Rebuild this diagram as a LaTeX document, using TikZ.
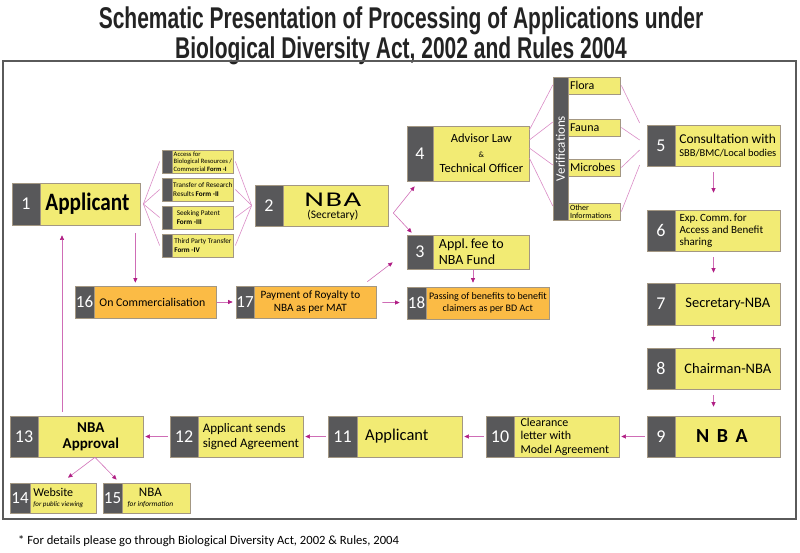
\documentclass[tikz,border=0pt]{standalone}
\usepackage{fontspec}
\setmainfont{Carlito}
\newfontfamily\titlefont{Liberation Sans}[FakeStretch=0.7]
\usepackage{graphicx}
\usepackage{tikz}
\usetikzlibrary{arrows.meta,positioning,calc}

\definecolor{boxyellow}{HTML}{F2EB74}
\definecolor{boxorange}{HTML}{FBBB45}
\definecolor{numgray}{HTML}{58585A}
\definecolor{boxedge}{HTML}{A39783}
\definecolor{fanpink}{HTML}{DA8CC6}
\definecolor{flowpink}{HTML}{CF6DB6}
\definecolor{flowtip}{HTML}{B01E84}
\definecolor{framegray}{HTML}{5A5A5A}
\definecolor{titlegray}{HTML}{232323}

\tikzset{
  stage/.style={draw=boxedge, line width=0.7pt, inner sep=0pt},
  numtag/.style={draw=boxedge, line width=0.7pt, fill=numgray, inner sep=0pt, text=white, font=\fontsize{18}{18}\selectfont},
  formtext/.style={align=left, inner sep=0pt},
  verif/.style={stage, fill=boxyellow, minimum width=52, minimum height=17, text width=48, align=left, inner xsep=2pt, font=\fontsize{12}{12}\selectfont},
  fan/.style={draw=fanpink, line width=0.6pt},
  flow/.style={draw=flowpink, line width=0.6pt, -{Triangle[length=4.5pt,width=4pt,color=flowtip]}},
}

% name, centre, width, height, tag width, number, fill, label options, label
\newcommand{\stagebox}[9]{%
  \node[stage, fill=#7, minimum width=#3, minimum height=#4] (#1) at (#2) {};
  \node[numtag, minimum width=#5, minimum height=#4, anchor=west] (#1-n) at (#1.west) {#6};
  \node[#8] (#1-t) at ($(#1-n.east)!0.5!(#1.east)$) {#9};
}

\begin{document}
\begin{tikzpicture}[x=1pt,y=-1pt]
\useasboundingbox (0,0) rectangle (800,552);

% title and frame
\node[anchor=base, font=\titlefont\bfseries\fontsize{30}{30}\selectfont, text=titlegray] (title-a) at (401,28) {Schematic Presentation of Processing of Applications under};
\node[anchor=base, font=\titlefont\bfseries\fontsize{30}{30}\selectfont, text=titlegray] (title-b) at (401,58) {Biological Diversity Act, 2002 and Rules 2004};
\draw[framegray, line width=1.6pt] (3,61) rectangle (796,519);

% applicant and forms
\stagebox{b1}{76,204}{128}{42}{28}{1}{boxyellow}{xshift=-3pt, font=\bfseries\fontsize{25}{25}\selectfont}{\scalebox{0.85}[1]{Applicant}}
\stagebox{f1}{197.5,161.5}{71}{23}{10}{}{boxyellow}{formtext, font=\fontsize{6.6}{7.6}\selectfont}{Access for\\Biological Resources /\\Commercial \textbf{Form -I}}
\stagebox{f2}{197.5,189.5}{71}{23}{10}{}{boxyellow}{formtext, font=\fontsize{7.2}{8.5}\selectfont}{Transfer of Research\\Results \textbf{Form -II}}
\stagebox{f3}{197.5,217.5}{71}{23}{10}{}{boxyellow}{formtext, xshift=-4.5pt, font=\fontsize{7.2}{8.5}\selectfont}{Seeking Patent\\\textbf{Form -III}}
\stagebox{f4}{197.5,245.5}{71}{23}{10}{}{boxyellow}{formtext, font=\fontsize{7.2}{8.5}\selectfont}{Third Party Transfer\\\textbf{Form -IV}}
\stagebox{b2}{321.5,205.5}{133}{41}{28}{2}{boxyellow}{align=center, xshift=-3pt, yshift=-1pt, font=\fontsize{11.5}{12.5}\selectfont}{{\fontsize{21}{21}\selectfont\scalebox{1.45}[1]{N\kern1pt B\kern1pt A}}\\(Secretary)}

\coordinate (b1-fan) at ([xshift=3pt]b1.east);
\coordinate (b2-fan) at ([xshift=-3pt]b2.west);
\foreach \f in {f1,f2,f3,f4} {
  \draw[fan] (b1-fan) -- ([xshift=-2pt]\f.west);
  \draw[fan] ([xshift=2pt]\f.east) -- (b2-fan);
}

% scrutiny
\stagebox{b4}{468,153.5}{122}{55}{26}{4}{boxyellow}{align=center, font=\fontsize{12.5}{15}\selectfont}{Advisor Law\\{\fontsize{8}{8}\selectfont\&}\\Technical Officer}
\stagebox{b3}{468,252}{122}{34}{26}{3}{boxyellow}{align=left, xshift=-10pt, font=\fontsize{14}{16}\selectfont}{Appl.\,fee to\\NBA Fund}
\coordinate (b2-fork) at ([shift={(5pt,-7.5pt)}]b2.east);
\draw[flow] (b2-fork) -- ([shift={(8pt,-5pt)}]b4.south west);
\draw[flow] (b2-fork) -- ([shift={(5pt,2pt)}]b3.north west);

\node[fill=numgray, draw=boxedge, minimum width=15, minimum height=143, inner sep=0pt] (vbar) at (560.5,148.5) {};
\node[rotate=90, text=white, font=\fontsize{13}{13}\selectfont] (vbar-t) at (vbar) {Verifications};
\node[verif] (v1) at (594,85.5) {Flora};
\node[verif] (v2) at (594,127.5) {Fauna};
\node[verif] (v3) at (594,167.5) {Microbes};
\node[verif, font=\fontsize{8}{8.5}\selectfont] (v4) at (594,211.5) {Other\\Informations};
\foreach \s/\e in {23.5/63.5, 13.5/26.5, 5.5/-16.5, -4.5/-57.5}
  \draw[fan] ([yshift=\s pt]b4.east) -- ([yshift=\e pt]vbar.west);

% right column
\stagebox{b5}{713.5,145.5}{133}{41}{28}{5}{boxyellow}{align=left, font=\fontsize{10.5}{13}\selectfont}{{\fontsize{13.5}{13}\selectfont Consultation with}\\SBB/BMC/Local bodies}
\foreach \v/\e in {v1/22.5, v2/5.5, v3/-4.5, v4/-19.5}
  \draw[fan] ([xshift=1pt]\v.east) -- ([shift={(-7pt,\e pt)}]b5.west);
\stagebox{b6}{713.5,230.5}{133}{41}{28}{6}{boxyellow}{align=left, xshift=-6.5pt, font=\fontsize{11}{12}\selectfont}{Exp.\,Comm.\,for\\Access and Benefit\\sharing}
\stagebox{b7}{713.5,304}{133}{42}{28}{7}{boxyellow}{font=\fontsize{14.5}{14.5}\selectfont}{Secretary-NBA}
\stagebox{b8}{713.5,368.5}{133}{41}{28}{8}{boxyellow}{font=\fontsize{14.5}{14.5}\selectfont}{Chairman-NBA}
\stagebox{b9}{713.5,436.5}{133}{41}{28}{9}{boxyellow}{xshift=-6pt, font=\bfseries\fontsize{20}{20}\selectfont}{N\hspace{7.5pt}B\hspace{7.5pt}A}
\draw[flow, shorten <=6pt, shorten >=17pt] (b5) -- (b6);
\draw[flow, shorten <=6pt, shorten >=10pt] (b6) -- (b7);
\draw[flow, shorten <=5pt, shorten >=6pt] (b7) -- (b8);
\draw[flow, shorten <=6pt, shorten >=9pt] (b8) -- (b9);

% bottom row
\stagebox{b10}{552.5,436.5}{133}{41}{28}{10}{boxyellow}{align=left, xshift=-2pt, font=\fontsize{12}{13.5}\selectfont}{Clearance\\letter with\\Model Agreement}
\stagebox{b11}{395,436.5}{134}{41}{29}{11}{boxyellow}{xshift=-13pt, font=\fontsize{16.5}{16.5}\selectfont}{Applicant}
\stagebox{b12}{236.5,436.5}{133}{41}{28}{12}{boxyellow}{align=left, font=\fontsize{13}{15}\selectfont}{Applicant sends\\signed Agreement}
\stagebox{b13}{76.5,436.5}{133}{41}{28}{13}{boxyellow}{align=center, font=\bfseries\fontsize{15}{16}\selectfont}{NBA\\Approval}
\foreach \a/\b in {b9/b10, b10/b11, b11/b12, b12/b13}
  \draw[flow, shorten <=2pt, shorten >=2pt] (\a) -- (\b);

\stagebox{b14}{53,498}{86}{30}{20}{{\fontsize{17}{17}\selectfont 14}}{boxyellow}{align=left, xshift=-5pt, font=\fontsize{12}{10}\selectfont}{Website\\{\itshape\fontsize{7}{7}\selectfont for public viewing}}
\stagebox{b15}{146.5,498}{87}{30}{19}{{\fontsize{17}{17}\selectfont 15}}{boxyellow}{align=center, xshift=-6pt, font=\fontsize{13}{9.5}\selectfont}{NBA\\{\itshape\fontsize{7.4}{7.4}\selectfont for information}}
\coordinate (b13-split) at ([xshift=18.5pt]b13.south);
\draw[flow] (b13-split) -- ([shift={(15pt,5pt)}]b14.north);
\draw[flow] (b13-split) -- ([shift={(14pt,3pt)}]b15.north west);
\draw[flow, shorten <=4pt, shorten >=10pt] ([xshift=-14.5pt]b13.north) -- ([xshift=-14.5pt]b13.north |- b1.south);

% commercialisation
\stagebox{b16}{145.5,302}{141}{32}{19}{{\fontsize{17}{17}\selectfont 16}}{boxorange}{xshift=-3pt, font=\fontsize{11.8}{11.8}\selectfont}{On Commercialisation}
\stagebox{b17}{306,302}{140}{32}{18}{{\fontsize{17}{17}\selectfont 17}}{boxorange}{align=center, xshift=-5pt, font=\fontsize{11.2}{13}\selectfont}{Payment of Royalty to\\NBA as per MAT}
\stagebox{b18}{478,303}{142}{32}{19}{{\fontsize{17}{17}\selectfont 18}}{boxorange}{align=center, font=\fontsize{10}{12.5}\selectfont}{Passing of benefits to benefit\\claimers as per BD Act}
\draw[flow, shorten <=8pt, shorten >=3pt] ([xshift=-5pt]b1.south east) -- ([xshift=-5pt]b1.south east |- b16.north);
\draw[flow, shorten <=1pt, shorten >=3pt] (b16) -- (b17);
\draw[flow, shorten <=6pt, shorten >=7pt] (b17) -- (b18);
\draw[flow] ([shift={(-9pt,4pt)}]b17.north east) -- ([shift={(-14pt,7pt)}]b3.south west);
\draw[flow, shorten <=1pt, shorten >=4pt] ([xshift=5pt]b3.south) -- ([xshift=5pt]b3.south |- b18.north);

\node[anchor=base west, inner sep=0pt, font=\fontsize{12.6}{12.6}\selectfont] (note) at (18,544) {* For details please go through Biological Diversity Act, 2002 \& Rules, 2004};
\end{tikzpicture}
\end{document}
